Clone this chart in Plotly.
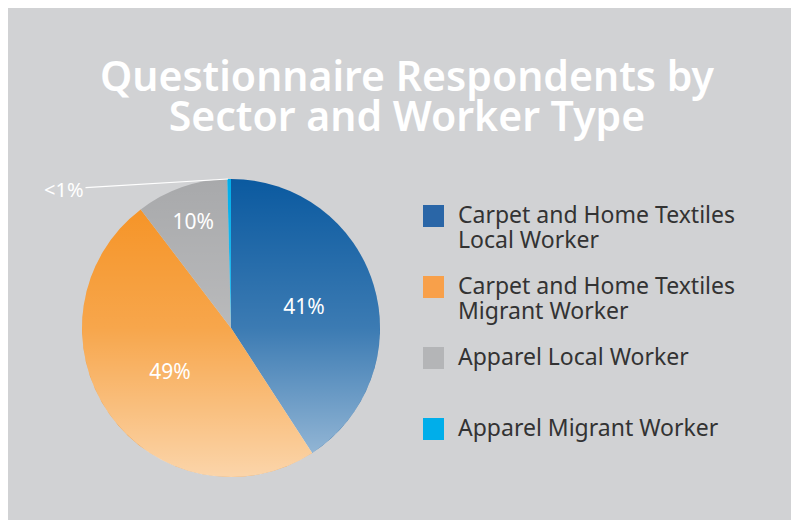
import base64
import plotly.graph_objects as go

# ---- data ----
categories = [
    "Carpet and Home Textiles Local Worker",
    "Carpet and Home Textiles Migrant Worker",
    "Apparel Local Worker",
    "Apparel Migrant Worker",
]
legend_lines = [
    ["Carpet and Home Textiles", "Local Worker"],
    ["Carpet and Home Textiles", "Migrant Worker"],
    ["Apparel Local Worker"],
    ["Apparel Migrant Worker"],
]
shares = [41, 49, 10, 0.4]
slice_text = ["41%", "49%", "10%", "<1%"]
title_lines = ["Questionnaire Respondents by", "Sector and Worker Type"]

# ---- style ----
OFF = 8                      # page body margin
W, H = 799 - OFF, 520 - OFF
BG = "#d1d2d4"
slice_colors = ["#0b5aa0", "#f5901f", "#a8a9ab", "#00aeea"]
legend_colors = ["#2a66a7", "#f8a04a", "#b4b5b7", "#00aeea"]
FONT = "Noto Sans"


def px(sx):
    return (sx - OFF) / W


def py(sy):
    return 1 - (sy - OFF) / H


def tight(lines, glyph_px):
    """Join lines; glyphs at glyph_px while line pitch follows the outer font size."""
    return "<br>".join(f"<span style='font-size:{glyph_px}px'>{t}</span>" for t in lines)


cx, cy, r = 231, 328, 149

fig = go.Figure()
fig.add_trace(go.Pie(
    labels=categories,
    values=shares,
    text=slice_text,
    textinfo="text",
    textposition=["inside", "inside", "inside", "none"],
    insidetextorientation="horizontal",
    insidetextfont=dict(family=FONT, size=21, color="white"),
    sort=False,
    direction="clockwise",
    rotation=0,
    marker=dict(colors=slice_colors, line=dict(width=0)),
    domain=dict(x=[px(cx - r), px(cx + r)], y=[py(cy + r), py(cy - r)]),
    showlegend=False,
    hoverinfo="label+percent",
))

# soft vertical light gradient over the pie (decorative shading)
svg = (
    "<svg xmlns='http://www.w3.org/2000/svg' width='300' height='300' viewBox='0 0 300 300'>"
    "<defs><linearGradient id='g' x1='0' y1='0' x2='0' y2='1'>"
    "<stop offset='0' stop-color='white' stop-opacity='0'/>"
    "<stop offset='0.5' stop-color='white' stop-opacity='0.2'/>"
    "<stop offset='1' stop-color='white' stop-opacity='0.62'/>"
    "</linearGradient></defs>"
    "<circle cx='150' cy='150' r='150' fill='url(#g)'/></svg>"
)
src = "data:image/svg+xml;base64," + base64.b64encode(svg.encode()).decode()
images = [dict(
    source=src, xref="paper", yref="paper",
    x=px(cx - r), y=py(cy - r), sizex=2 * r / W, sizey=2 * r / H,
    xanchor="left", yanchor="top", sizing="stretch", layer="above",
)]

annotations = []
# title: two lines with tight leading (pitch 40 px)
annotations.append(dict(
    x=px(407), y=py(45), xref="paper", yref="paper",
    xanchor="center", yanchor="top", showarrow=False, align="center",
    text=tight(title_lines, 41),
    font=dict(family=FONT, size=40 / 1.3, color="white", weight=600),
))

# "<1%" callout for the tiny slice
annotations.append(dict(
    x=px(228), y=py(179), xref="paper", yref="paper",
    ax=-164, ay=10, axref="pixel", ayref="pixel",
    text=slice_text[3], showarrow=True, arrowhead=0, arrowwidth=1.2,
    arrowcolor="white", standoff=0,
    font=dict(family=FONT, size=20, color="white"),
))

shapes = []
# custom legend
for i, (lines, col) in enumerate(zip(legend_lines, legend_colors)):
    top = 205 + 71 * i
    shapes.append(dict(type="rect", xref="paper", yref="paper",
                       x0=px(423), x1=px(444), y0=py(top + 22), y1=py(top),
                       fillcolor=col, line=dict(width=0)))
    annotations.append(dict(
        x=px(456), y=py(top - 9), xref="paper", yref="paper",
        xanchor="left", yanchor="top", align="left", showarrow=False,
        text=tight(lines, 23),
        font=dict(family=FONT, size=25 / 1.3, color="#333333"),
    ))

fig.update_layout(
    width=W, height=H,
    margin=dict(l=0, r=0, t=0, b=0),
    paper_bgcolor=BG,
    plot_bgcolor=BG,
    annotations=annotations,
    shapes=shapes,
    images=images,
    showlegend=False,
)

fig.write_html("out.html")
